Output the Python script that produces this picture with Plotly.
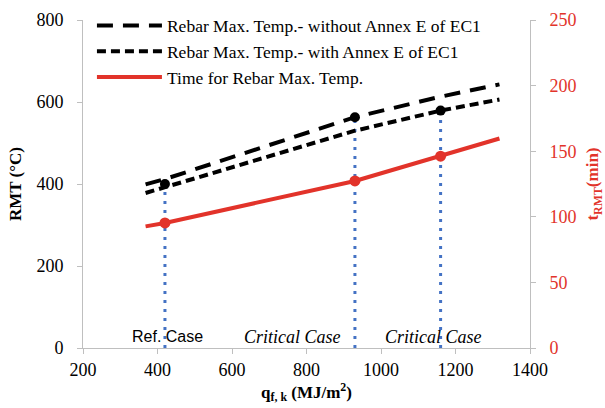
import plotly.graph_objects as go

# Data
x_without = [368, 420, 930, 1160, 1318]
rmt_without = [399, 412, 563, 613, 643]

x_with = [368, 420, 930, 1160, 1318]
rmt_with = [378, 392, 530, 579, 606]

x_time = [368, 420, 930, 1160, 1318]
t_time = [92.7, 95.3, 127.3, 146.2, 159.7]

case_x = [420, 930, 1160]
case_rmt = [400, 563, 579]
case_time = [95.3, 127.3, 146.2]
case_labels = ["Ref. Case", "Critical Case", "Critical Case"]
case_label_x = [427, 762, 1142]

legend_names = [
    "Rebar Max. Temp.- without Annex E of EC1",
    "Rebar Max. Temp.- with Annex E of EC1",
    "Time for Rebar Max. Temp.",
]

BLUE = "#4472C4"
RED = "#E2332A"
SERIF = "Liberation Serif, Times New Roman, serif"

fig = go.Figure()

# vertical dotted lines for the cases
for cx, cy in zip(case_x, case_rmt):
    fig.add_trace(go.Scatter(x=[cx, cx], y=[0, cy], mode="lines",
                             line=dict(color=BLUE, width=3, dash="3px,6px"),
                             showlegend=False, hoverinfo="skip"))

fig.add_trace(go.Scatter(x=x_without, y=rmt_without, mode="lines", name=legend_names[0],
                         line=dict(color="black", width=4, dash="16px,10px")))
fig.add_trace(go.Scatter(x=x_with, y=rmt_with, mode="lines", name=legend_names[1],
                         line=dict(color="black", width=4, dash="9px,5px")))
fig.add_trace(go.Scatter(x=x_time, y=t_time, mode="lines", name=legend_names[2],
                         line=dict(color=RED, width=4), yaxis="y2"))

fig.add_trace(go.Scatter(x=case_x, y=case_rmt, mode="markers",
                         marker=dict(color="black", size=10), showlegend=False))
fig.add_trace(go.Scatter(x=case_x, y=case_time, mode="markers", yaxis="y2",
                         marker=dict(color=RED, size=11), showlegend=False))

for lx, lab in zip(case_label_x, case_labels):
    if lab.startswith("Ref"):
        font = dict(family="Liberation Sans, Arial, sans-serif", size=16, color="black")
        txt = lab
    else:
        font = dict(family=SERIF, size=18, color="black")
        txt = "<i>" + lab + "</i>"
    fig.add_annotation(x=lx, y=28, text=txt, showarrow=False, font=font,
                       xanchor="center", yanchor="middle")

axis_common = dict(showgrid=False, zeroline=False, showline=True, linecolor="#BFBFBF",
                   linewidth=1, ticks="outside", tickcolor="#BFBFBF", ticklen=5)

fig.update_layout(
    width=605, height=408,
    margin=dict(l=83, r=75, t=20, b=60, autoexpand=False),
    paper_bgcolor="white", plot_bgcolor="white",
    font=dict(family=SERIF, size=18, color="black"),
    xaxis=dict(range=[200, 1400], tickvals=[200, 400, 600, 800, 1000, 1200, 1400],
               title=dict(text="<b>q<sub>f, k</sub> (MJ/m<sup>2</sup>)</b>", standoff=2,
                          font=dict(size=17)),
               **axis_common),
    yaxis=dict(range=[0, 800], tickvals=[0, 200, 400, 600, 800], ticklabelstandoff=10,
               title=dict(text="<b>RMT (°C)</b>", standoff=10, font=dict(size=17)),
               **axis_common),
    yaxis2=dict(range=[0, 250], tickvals=[0, 50, 100, 150, 200, 250], overlaying="y",
                side="right", tickfont=dict(color=RED), ticklabelstandoff=10,
                title=dict(text="<b>t<sub>RMT</sub>(min)</b>", standoff=17,
                           font=dict(size=17, color=RED)),
                **axis_common),
    legend=dict(x=0.02, y=1.038, xanchor="left", yanchor="top", bgcolor="rgba(0,0,0,0)",
                font=dict(family=SERIF, size=17.5), itemwidth=65, tracegroupgap=0),
    showlegend=True,
)

fig.write_html("out.html")
